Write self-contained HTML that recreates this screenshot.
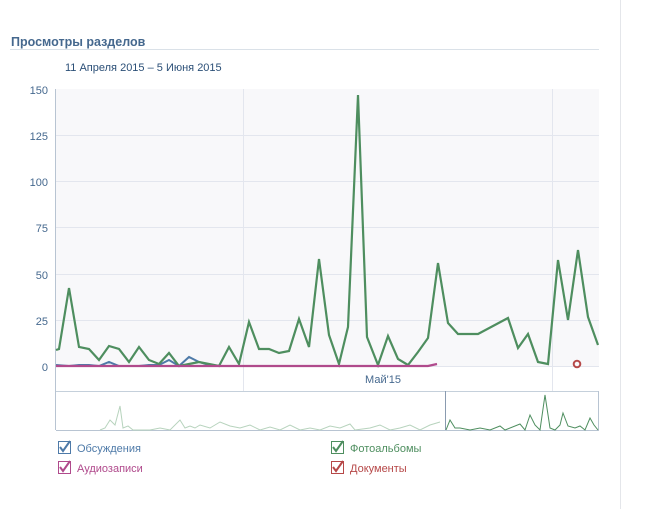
<!DOCTYPE html>
<html><head><meta charset="utf-8"><style>
body{margin:0;background:#fff;font-family:"Liberation Sans","Noto Sans CJK SC",sans-serif;}
</style></head><body>
<svg width="648" height="509" xmlns="http://www.w3.org/2000/svg" style="display:block">
<rect x="0" y="0" width="648" height="509" fill="#fff"/>
<line x1="620.5" y1="0" x2="620.5" y2="509" stroke="#e4e6ea"/>
<text x="11" y="46" font-size="12.5" font-weight="bold" fill="#45688e">Просмотры разделов</text>
<line x1="10" y1="49.5" x2="599" y2="49.5" stroke="#dae1e8"/>
<text x="65" y="71" font-size="11" fill="#2b4f77">11 Апреля 2015 – 5 Июня 2015</text>
<rect x="56" y="89" width="543" height="277" fill="#f8f8fa"/>
<g stroke="#e3e6ee" stroke-width="1">
<line x1="56" y1="135.5" x2="599" y2="135.5"/><line x1="56" y1="181.5" x2="599" y2="181.5"/>
<line x1="56" y1="227.5" x2="599" y2="227.5"/><line x1="56" y1="274.5" x2="599" y2="274.5"/>
<line x1="56" y1="320.5" x2="599" y2="320.5"/><line x1="56" y1="366.5" x2="599" y2="366.5"/>
<line x1="243.5" y1="89" x2="243.5" y2="391"/><line x1="552.5" y1="89" x2="552.5" y2="391"/>
</g>
<line x1="55.5" y1="89" x2="55.5" y2="430" stroke="#b8c4d2"/>
<g font-size="11" fill="#45688e" text-anchor="end">
<text x="48" y="94">150</text><text x="48" y="140">125</text><text x="48" y="186">100</text>
<text x="48" y="232">75</text><text x="48" y="279">50</text><text x="48" y="325">25</text><text x="48" y="371">0</text>
</g>
<text x="383" y="383" font-size="11" fill="#45688e" text-anchor="middle">Май'15</text>
<line x1="56" y1="391.5" x2="599" y2="391.5" stroke="#c5d0db"/>
<line x1="56" y1="430.5" x2="599" y2="430.5" stroke="#b8c4d2"/>
<line x1="598.5" y1="391" x2="598.5" y2="430" stroke="#b8c4d2"/>
<line x1="445.5" y1="391" x2="445.5" y2="430" stroke="#8a9bb0"/>
<polyline fill="none" stroke="#b7d3bd" stroke-width="1" points="100,430 105,428 110,420 115,425 120,406 123,428 128,426 133,430 150,430 160,428 170,430 180,420 185,428 190,426 195,428 200,425 210,428 220,422 230,426 240,428 250,425 260,430 270,427 280,430 290,425 300,430 310,428 320,430 330,426 340,428 350,424 355,430 370,428 380,425 390,430 400,428 410,425 420,430 430,425 440,422"/>
<polyline fill="none" stroke="#4e8e5f" stroke-width="1" points="446,430 450,420 455,428 460,428 470,430 480,428 490,430 500,426 505,430 520,424 525,430 530,415 535,425 540,430 545,395 550,428 555,430 560,425 563,413 568,426 575,428 580,426 585,430 590,418 594,425 598,430"/>
<polyline fill="none" stroke="#4e7aa8" stroke-width="2" points="56,365 69,366 79,365 89,365 99,366 109,362 119,366 139,366 149,365 159,365 169,360 179,366 189,357 199,362 209,365 219,366"/>
<polyline fill="none" stroke="#4e8e5f" stroke-width="2.2" stroke-linejoin="miter" points="56,350 59,349 69,288 79,347 89,349 99,360 109,346 119,349 129,362 139,347 149,360 159,364 169,353 179,366 189,364 199,362 209,364 219,366 229,347 239,364 249,322 259,349 269,349 279,353 289,351 299,319 309,347 319,259 329,335 339,364 348,327 358,95 367,337 378,365 388,336 398,359 408,365 418,352 428,338 438,263 448,323 458,334 478,334 508,318 518,348 528,334 538,362 548,364 558,260 568,320 578,250 588,317 598,345"/>
<polyline fill="none" stroke="#b04a8c" stroke-width="2.2" points="56,366 428,366 437,364"/>
<circle cx="577" cy="364" r="3.3" fill="none" stroke="#b64848" stroke-width="2"/>
<g font-size="11">
<rect x="58.5" y="441.5" width="12" height="12" fill="none" stroke="#4e7aa8"/>
<path d="M60 447 L63 451 L70 441" fill="none" stroke="#4e7aa8" stroke-width="2"/>
<text x="77" y="452" fill="#4e7aa8">Обсуждения</text>
<rect x="58.5" y="461.5" width="12" height="12" fill="none" stroke="#b04a8c"/>
<path d="M60 467 L63 471 L70 461" fill="none" stroke="#b04a8c" stroke-width="2"/>
<text x="77" y="472" fill="#b04a8c">Аудиозаписи</text>
<rect x="331.5" y="441.5" width="12" height="12" fill="none" stroke="#4e8e5f"/>
<path d="M333 447 L336 451 L343 441" fill="none" stroke="#4e8e5f" stroke-width="2"/>
<text x="350" y="452" fill="#4e8e5f">Фотоальбомы</text>
<rect x="331.5" y="461.5" width="12" height="12" fill="none" stroke="#b64848"/>
<path d="M333 467 L336 471 L343 461" fill="none" stroke="#b64848" stroke-width="2"/>
<text x="350" y="472" fill="#b64848">Документы</text>
</g>
</svg>
</body></html>
